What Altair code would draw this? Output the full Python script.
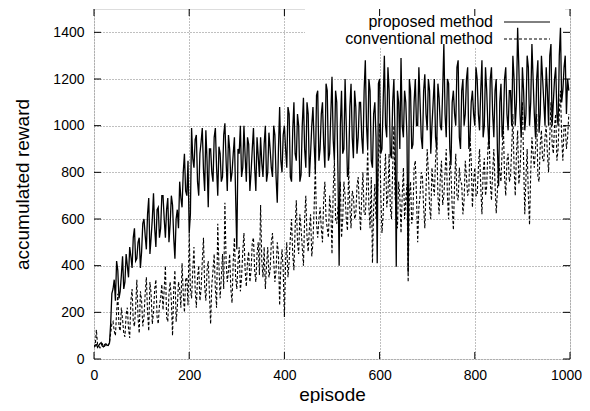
import altair as alt
import pandas as pd

# ---------------- data ----------------
# readings at episodes 0, 5, 10, ... 995
episodes = list(range(0, 1000, 5))
# readings in between, at episodes 2.5, 7.5, ... 997.5
episodes_mid = [e + 2.5 for e in episodes]

proposed = [
    55, 62, 58, 70, 52, 65, 60,
    150,
    300, 250, 380, 290, 440, 330,
    400, 480, 390, 560, 430, 520, 460,
    600, 470, 690, 520, 710, 480, 650, 560,
    700, 520, 690, 580, 660, 430, 640,
    760, 650, 880, 700, 540,
    990, 820, 960, 700, 930, 810, 980, 650, 900, 760, 990, 700, 880, 780,
    1010, 720, 900, 800, 950, 470, 880, 780, 1000, 760, 920, 800, 990, 720, 870,
    950, 780, 1000, 800, 900, 780, 960, 670, 1080, 800,
    1000, 820, 1050, 760, 1100, 850, 1000, 790, 1120, 820, 1050, 880, 1080, 800, 1150,
    900, 1100, 820, 1150, 880, 1210, 850, 1100, 400, 1150, 900, 1000, 820, 1180, 860, 1080, 950,
    1100, 880, 1280, 900, 1150, 820, 1100, 410, 1200, 900, 1300, 950, 1150, 860, 1200, 395, 1100,
    1290, 950, 1100, 370, 1150, 920, 1200, 1000, 1100, 900, 1220, 980, 1150, 1000, 1200, 900, 1120, 980, 1350,
    950, 1180, 830, 1150, 1000, 1280, 900, 1200, 1050, 1250, 950, 1150, 1000,
    1200, 980, 1280, 1000, 1150, 900, 1250, 950, 1200, 740, 1180, 1000, 1250, 980,
    1150, 1300, 1000, 1420, 1050, 1250, 980, 1300, 1000, 1350, 1050, 1200, 970, 1300, 1100,
    1250, 1000, 1350, 1100, 1250, 1000, 1420, 1150, 1300, 1200,
]
proposed_mid = [
    60, 50, 66, 55, 62, 58, 68,
    280,
    340, 420, 260, 360, 300, 450,
    350, 440, 520, 420, 500, 390, 580,
    530, 620, 450, 600, 560, 640, 520, 700,
    600, 640, 500, 700, 520, 600, 560,
    690, 800, 720, 850, 620,
    860, 940, 760, 880, 990, 720, 850, 900, 800, 950, 820, 910, 760, 960,
    850, 960, 760, 880, 700, 900, 1000, 820, 870, 950, 720, 900, 820, 950, 780,
    840, 920, 760, 970, 820, 1000, 780, 900, 850, 960,
    900, 1080, 780, 980, 880, 1050, 760, 1000, 900, 1100, 780, 1000, 920, 1130, 850,
    1050, 920, 1180, 850, 1050, 940, 1150, 800, 1000, 880, 1200, 780, 1080, 950, 1150, 880, 1100,
    950, 1150, 1000, 1200, 850, 1050, 950, 1180, 880, 1100, 1000, 1250, 880, 1100, 950, 1150, 900,
    1000, 1150, 950, 1200, 900, 1100, 1000, 1250, 950, 1150, 1050, 1200, 880, 1100, 950, 1180, 1000, 1150, 1050,
    1200, 900, 1100, 1050, 1250, 950, 1150, 1000, 1200, 900, 1100, 1050, 1250,
    1050, 1150, 950, 1250, 1000, 1200, 1050, 1150, 900, 1100, 950, 1200, 1050, 1150,
    1000, 1200, 1100, 1250, 950, 1150, 1050, 1250, 1100, 1200, 950, 1280, 1050, 1200, 1000,
    1150, 1300, 1000, 1200, 1050, 1300, 1100, 1250, 1050, 1150,
]

conventional = [
    50, 125, 55, 60, 52, 62, 58,
    110, 160, 100, 280, 120, 170, 95,
    220, 90, 300, 140, 340, 110, 250,
    180, 350, 120, 280, 200, 340, 150, 260,
    210, 400, 160, 330, 100, 380, 220,
    300, 410, 200, 350, 540,
    260, 480, 220, 400, 300, 520, 250, 420, 150, 380, 300, 580, 260, 450,
    670, 330, 450, 240, 520, 300, 480, 350, 540, 310, 460, 380, 520, 330, 500,
    660, 350, 300, 480, 380, 540, 330, 500, 230, 470,
    180, 500, 420, 600, 380, 680, 450, 560, 400, 700, 460, 620, 500, 830, 520,
    650, 500, 760, 560, 700, 450, 850, 580, 680, 520, 760, 600, 820, 560, 700, 620, 780,
    550, 800, 620, 900, 560, 411, 750, 640, 1010, 540, 780, 650, 880, 600, 1000, 620, 760,
    540, 820, 680, 330, 760, 620, 850, 500, 700, 780, 560, 900, 650, 820, 700, 950, 620, 850, 700,
    900, 600, 800, 553, 880, 680, 760, 620, 850, 700, 950, 650, 820,
    700, 900, 620, 860, 740, 980, 680, 900, 625, 850, 760, 1000, 700, 880,
    780, 1050, 700, 980, 800, 1100, 620, 900, 575, 950, 820, 1050, 760, 980, 850,
    1000, 800, 1100, 880, 1050, 900, 1150, 850, 1000, 950,
]
conventional_mid = [
    55, 60, 48, 65, 55, 60, 70,
    150, 120, 200, 140, 220, 110, 190,
    130, 250, 160, 220, 180, 290, 140,
    280, 200, 330, 150, 300, 180, 230, 320,
    300, 180, 280, 250, 300, 160, 330,
    220, 280, 340, 230, 300,
    380, 300, 350, 250, 420, 310, 380, 280, 320, 450, 220, 400, 350, 300,
    420, 380, 300, 420, 350, 410, 290, 460, 380, 420, 330, 500, 380, 450, 360,
    420, 480, 400, 350, 500, 420, 380, 450, 400, 380,
    420, 350, 520, 450, 560, 500, 620, 480, 600, 520, 560, 440, 650, 580, 600,
    560, 680, 600, 520, 640, 720, 600, 650, 760, 600, 700, 550, 650, 720, 600, 740, 650,
    700, 620, 720, 650, 780, 650, 600, 850, 700, 620, 880, 700, 650, 820, 700, 560, 700,
    700, 600, 750, 700, 580, 820, 700, 650, 800, 650, 720, 800, 600, 750, 850, 700, 780, 660, 800,
    700, 850, 650, 750, 700, 820, 750, 680, 780, 720, 850, 760, 700,
    820, 740, 800, 700, 900, 760, 800, 750, 720, 800, 900, 780, 850, 760,
    900, 820, 880, 750, 950, 850, 780, 700, 800, 880, 900, 780, 920, 850, 950,
    880, 950, 920, 1000, 850, 1050, 950, 1000, 900, 1050,
]

x_ticks = [0, 200, 400, 600, 800, 1000]
y_ticks = [0, 200, 400, 600, 800, 1000, 1200, 1400]
series_names = ["proposed method", "conventional method"]

# ---------------- chart ----------------
W, H = 476, 350
FONT = "Liberation Sans"
TICK = 7


def table(eps, vals, eps_mid, vals_mid):
    a = pd.DataFrame({"episode": eps[:len(vals)], "value": vals[:len(eps)]})
    b = pd.DataFrame({"episode": eps_mid[:len(vals_mid)], "value": vals_mid[:len(eps_mid)]})
    return pd.concat([a, b]).sort_values("episode").reset_index(drop=True)


df_p = table(episodes, proposed, episodes_mid, proposed_mid)
df_c = table(episodes, conventional, episodes_mid, conventional_mid)

xs = alt.Scale(domain=[0, 1000], nice=False, zero=False)
ys = alt.Scale(domain=[0, 1500], nice=False, zero=False)

x_axis = alt.Axis(
    values=x_ticks, title="episode", grid=True, domain=False, ticks=False,
    labelPadding=9, labelFontSize=14, labelFont=FONT, labelColor="black", labelFlush=False,
    labelOffset={"expr": "datum.value == 1000 ? -4 : 0"},
    titleFont=FONT, titleFontSize=19, titleFontWeight="normal", titleColor="black",
    titleX=W / 2, titleY=35, titleBaseline="middle", titleAlign="center",
    gridColor="#808080", gridDash=[1, 2], gridWidth=1, format="d",
)
y_axis = alt.Axis(
    values=y_ticks, title="accumulated reward", grid=True, domain=False, ticks=False,
    labelPadding=10, labelFontSize=14, labelFont=FONT, labelColor="black", labelFlush=False,
    titleFont=FONT, titleFontSize=19, titleFontWeight="normal", titleColor="black",
    titleX=-72, titleY=H / 2, titleBaseline="middle", titleAlign="center", titleAngle=270,
    gridColor="#808080", gridDash=[1, 2], gridWidth=1, format="d",
)

one = pd.DataFrame({"a": [0]})

# white key box hiding the grid behind the legend
key_box = alt.Chart(one).mark_rect(fill="white").encode(
    x=alt.value(211), x2=alt.value(471), y=alt.value(0), y2=alt.value(38)
)

line_p = alt.Chart(df_p).mark_line(color="black", strokeWidth=1.3, clip=True).encode(
    x=alt.X("episode:Q", scale=xs, axis=x_axis),
    y=alt.Y("value:Q", scale=ys, axis=y_axis),
)
line_c = alt.Chart(df_c).mark_line(color="black", strokeWidth=1.1, strokeDash=[3, 2], clip=True).encode(
    x=alt.X("episode:Q", scale=xs, axis=x_axis),
    y=alt.Y("value:Q", scale=ys, axis=y_axis),
)

key_text = alt.Chart(pd.DataFrame({"t": series_names, "yy": [13, 30]})).mark_text(
    align="right", baseline="middle", font=FONT, fontSize=16, color="black"
).encode(x=alt.value(399), y=alt.Y("yy:Q", scale=None), text="t:N")

key_solid = alt.Chart(one).mark_rule(color="black", strokeWidth=1).encode(
    x=alt.value(410), x2=alt.value(456), y=alt.value(13)
)
key_dash = alt.Chart(one).mark_rule(color="black", strokeWidth=1, strokeDash=[3, 2]).encode(
    x=alt.value(410), x2=alt.value(456), y=alt.value(30)
)

xt = pd.DataFrame({"episode": x_ticks})
yt = pd.DataFrame({"value": y_ticks})
tick_bottom = alt.Chart(xt).mark_rule(color="black", strokeWidth=1).encode(
    x=alt.X("episode:Q", scale=xs, axis=x_axis), y=alt.value(H), y2=alt.value(H - TICK))
tick_top = alt.Chart(xt).mark_rule(color="black", strokeWidth=1).encode(
    x=alt.X("episode:Q", scale=xs, axis=x_axis), y=alt.value(0), y2=alt.value(TICK))
tick_left = alt.Chart(yt).mark_rule(color="black", strokeWidth=1).encode(
    y=alt.Y("value:Q", scale=ys, axis=y_axis), x=alt.value(0), x2=alt.value(TICK))
tick_right = alt.Chart(yt).mark_rule(color="black", strokeWidth=1).encode(
    y=alt.Y("value:Q", scale=ys, axis=y_axis), x=alt.value(W), x2=alt.value(W - TICK))

chart = alt.layer(
    key_box, line_p, line_c, key_text, key_solid, key_dash,
    tick_bottom, tick_top, tick_left, tick_right,
).properties(
    width=W, height=H,
    autosize=alt.AutoSizeParams(type="none"),
    padding={"left": 86, "top": 1, "right": 12, "bottom": 44},
).configure_view(
    stroke="black", strokeWidth=1.2
).configure(background="white")

chart.save("out.html", embed_options={"renderer": "svg", "actions": False})
